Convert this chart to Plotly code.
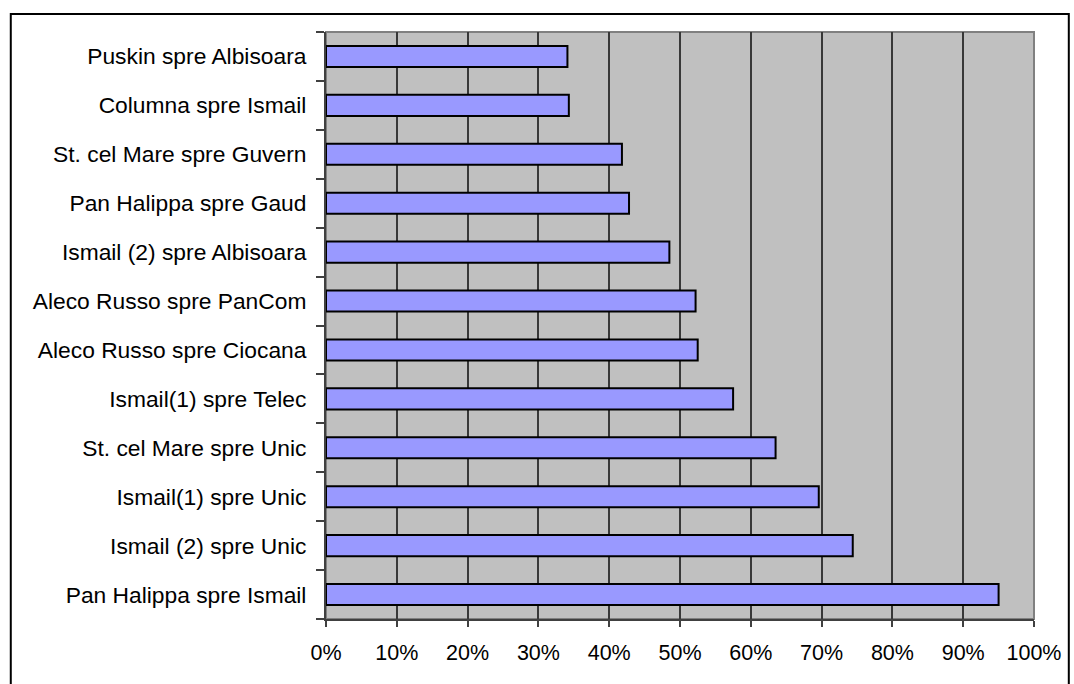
import plotly.graph_objects as go

# Route share per street segment (fraction of trips)
routes = [
    "Pan Halippa spre Ismail",
    "Ismail (2) spre Unic",
    "Ismail(1) spre Unic",
    "St. cel Mare spre Unic",
    "Ismail(1) spre Telec",
    "Aleco Russo spre Ciocana",
    "Aleco Russo spre PanCom",
    "Ismail (2) spre Albisoara",
    "Pan Halippa spre Gaud",
    "St. cel Mare spre Guvern",
    "Columna spre Ismail",
    "Puskin spre Albisoara",
]
shares = [0.950, 0.744, 0.696, 0.635, 0.575, 0.525, 0.522, 0.485, 0.428, 0.418, 0.343, 0.341]

x_ticks = [i / 10 for i in range(11)]
x_tick_labels = [f"{i * 10}%" for i in range(11)]

FONT = "Liberation Sans, Arial, sans-serif"

fig = go.Figure(
    go.Bar(
        x=shares,
        y=routes,
        orientation="h",
        marker=dict(color="#9999FF", line=dict(color="#000000", width=2)),
        hoverinfo="skip",
    )
)

fig.update_layout(
    width=1074,
    height=684,
    margin=dict(l=326, r=36, t=32, b=65),
    paper_bgcolor="#FFFFFF",
    plot_bgcolor="#C0C0C0",
    bargap=0.57,
    showlegend=False,
    font=dict(family=FONT, size=21, color="#000000"),
)

fig.update_xaxes(
    range=[0, 1],
    tickvals=x_ticks,
    ticktext=x_tick_labels,
    showgrid=True,
    gridcolor="#383838",
    gridwidth=1.5,
    zeroline=False,
    showline=True,
    linecolor="#404040",
    linewidth=2,
    ticks="outside",
    ticklen=6,
    tickwidth=1.5,
    tickcolor="#404040",
    ticklabelstandoff=7,
    mirror=False,
    tickfont=dict(size=21.5),
)

fig.update_yaxes(
    categoryorder="array",
    categoryarray=routes,
    showgrid=False,
    showline=True,
    linecolor="#404040",
    linewidth=2,
    ticks="outside",
    tickson="boundaries",
    ticklen=8,
    tickwidth=1.5,
    tickcolor="#404040",
    ticklabelstandoff=13,
    tickfont=dict(size=22.8),
)

# Grey frame on the right/top edges of the plot area
fig.add_shape(
    type="rect", xref="paper", yref="paper", x0=0, x1=1, y0=0, y1=1,
    line=dict(color="#808080", width=2), layer="below",
)

# Black outer chart border
fig.add_shape(
    type="rect", xref="paper", yref="paper",
    x0=(9 - 326) / 712, x1=(1073 - 326) / 712,
    y0=(619 - 700) / 587, y1=(619 - 14) / 587,
    line=dict(color="#000000", width=2),
)

fig.write_html("out.html")
